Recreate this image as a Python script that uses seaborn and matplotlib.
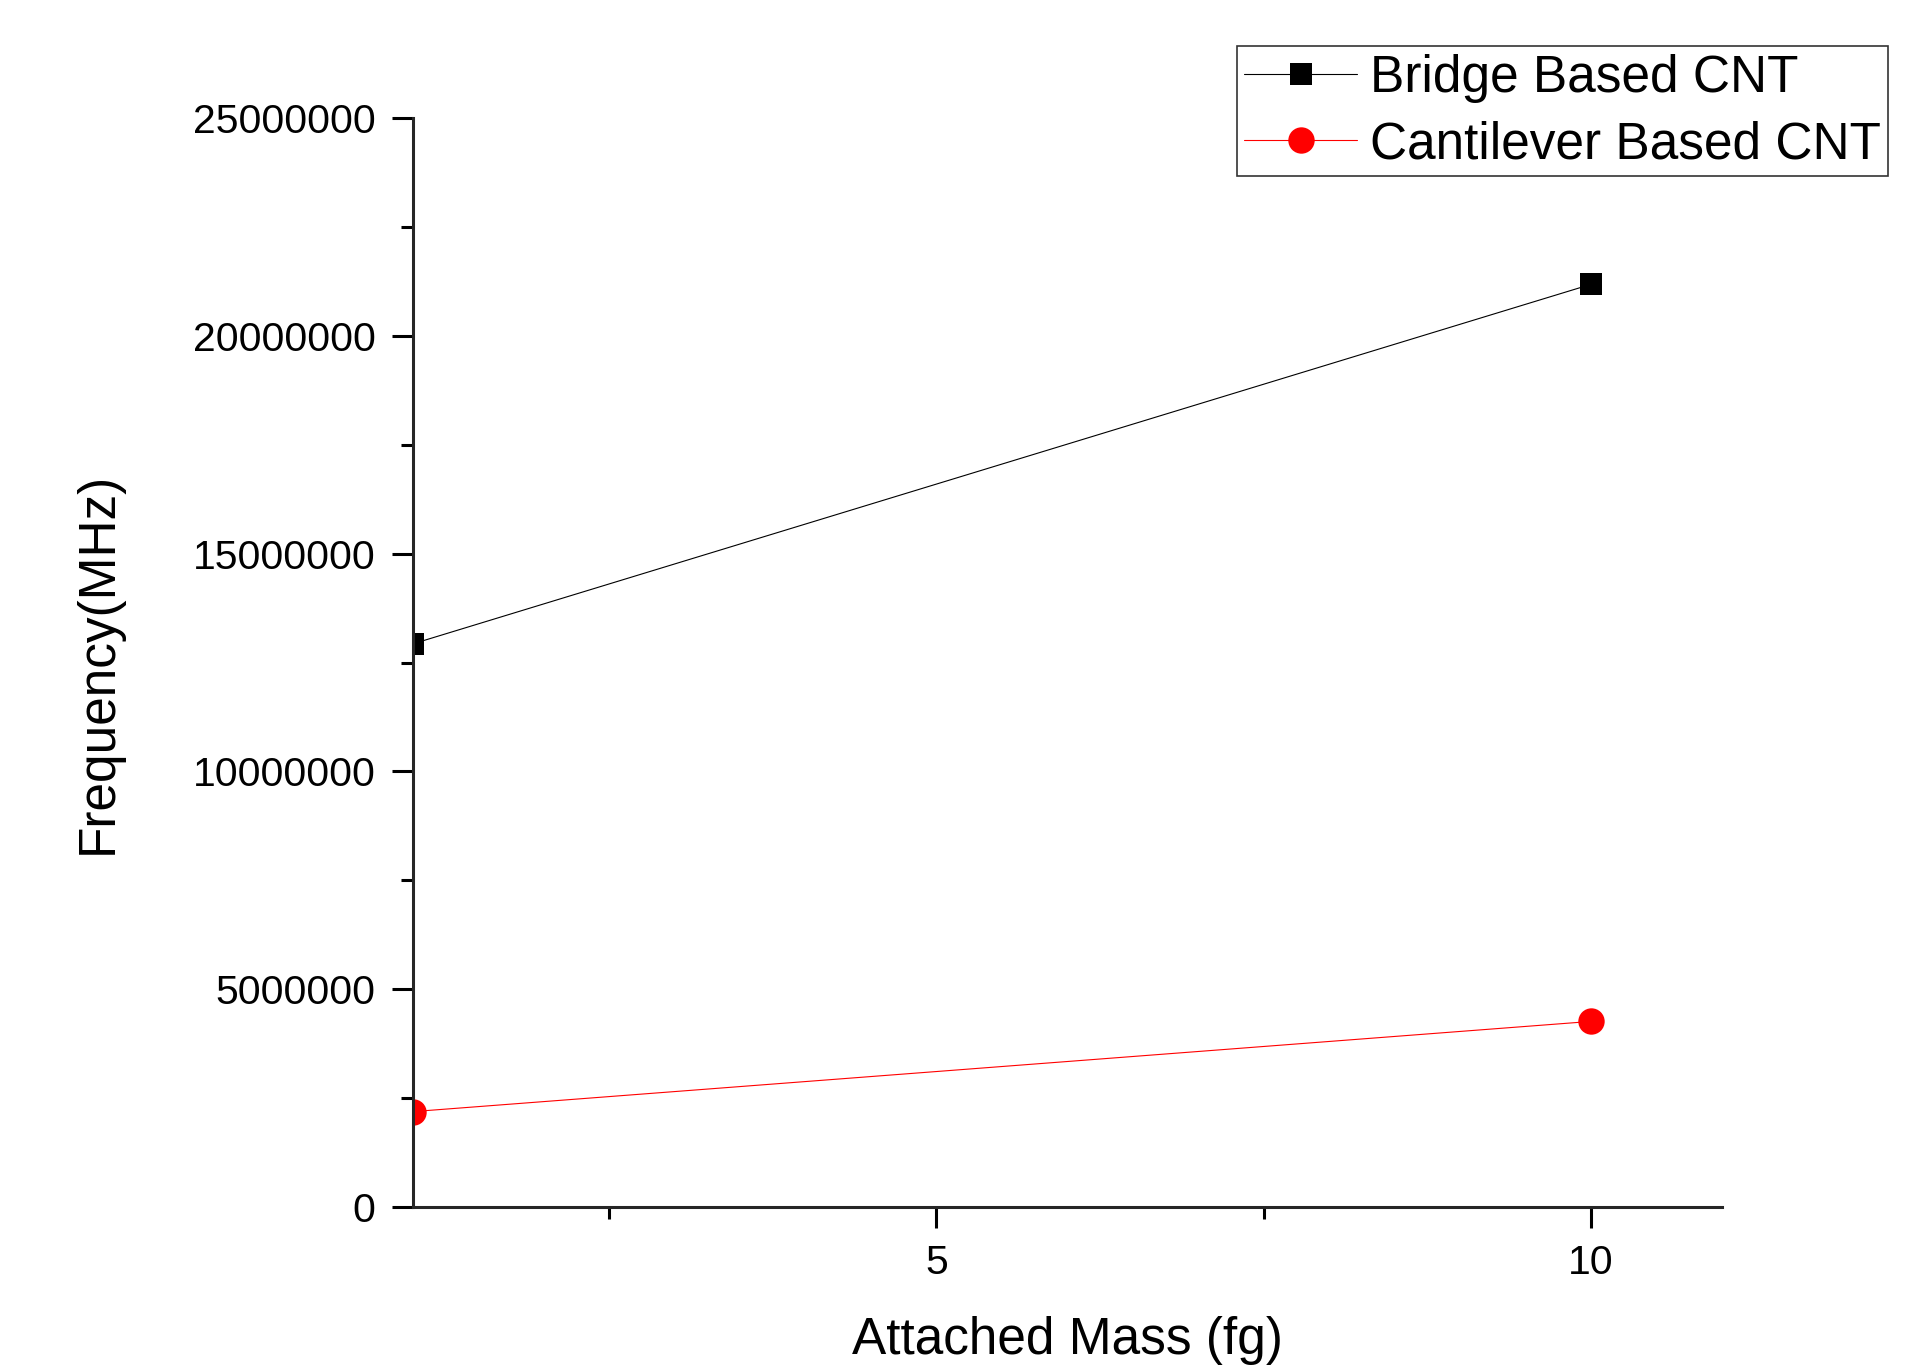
import numpy as np
import pandas as pd
import matplotlib
matplotlib.use("Agg")
import matplotlib.pyplot as plt
from matplotlib.ticker import MultipleLocator
import seaborn as sns

# ── Dados ─────────────────────────────────────────────────────────
MASS       = [1, 10]
BRIDGE     = [12930000, 21180000]
CANTILEVER = [2190000, 4260000]
LABELS     = ["Bridge Based CNT", "Cantilever Based CNT"]

# ── Config ────────────────────────────────────────────────────────
sns.set_style("ticks")
plt.rcParams["font.family"] = ["Liberation Sans", "DejaVu Sans"]
plt.rcParams["axes.linewidth"] = 2.2
plt.rcParams["text.color"] = "black"
plt.rcParams["axes.labelcolor"] = "black"

fig = plt.figure(figsize=(19.15, 13.66), dpi=100)
ax = fig.add_axes([0.2157, 0.1164, 0.6833, 0.7972])

sns.lineplot(x=MASS, y=BRIDGE, ax=ax, color="black", marker="s",
             markersize=16.5, linewidth=0.8, label=LABELS[0],
             markeredgewidth=0)
sns.lineplot(x=MASS, y=CANTILEVER, ax=ax, color="#ff0000", marker="o",
             markersize=19, linewidth=0.8, label=LABELS[1],
             markeredgewidth=0)

ax.set_xlim(1, 11)
ax.set_ylim(0, 25000000)
ax.xaxis.set_major_locator(MultipleLocator(5))
ax.xaxis.set_minor_locator(MultipleLocator(2.5))
ax.yaxis.set_major_locator(MultipleLocator(5000000))
ax.yaxis.set_minor_locator(MultipleLocator(2500000))
ax.ticklabel_format(style="plain", axis="y", useOffset=False)

ax.tick_params(which="major", direction="out", length=15, width=2.2,
               labelsize=29.5, pad=12, colors="black")
ax.tick_params(which="minor", direction="out", length=8.5, width=2.2,
               colors="black")
sns.despine(ax=ax)

ax.set_xlabel("Attached Mass (fg)", fontsize=37, labelpad=24)
ax.set_ylabel("Frequency(MHz)", fontsize=37, labelpad=50)

ax.get_legend().remove()
handles, labels = ax.get_legend_handles_labels()
leg = fig.legend(handles, labels, loc="upper right",
                 bbox_to_anchor=(0.986, 0.966), fontsize=37,
                 frameon=True, fancybox=False, edgecolor="black",
                 handlelength=2.2, labelspacing=0.34, borderpad=0.14,
                 handletextpad=0.25, borderaxespad=0)
leg.get_frame().set_linewidth(1.2)

fig.savefig("out.png", dpi=100)
